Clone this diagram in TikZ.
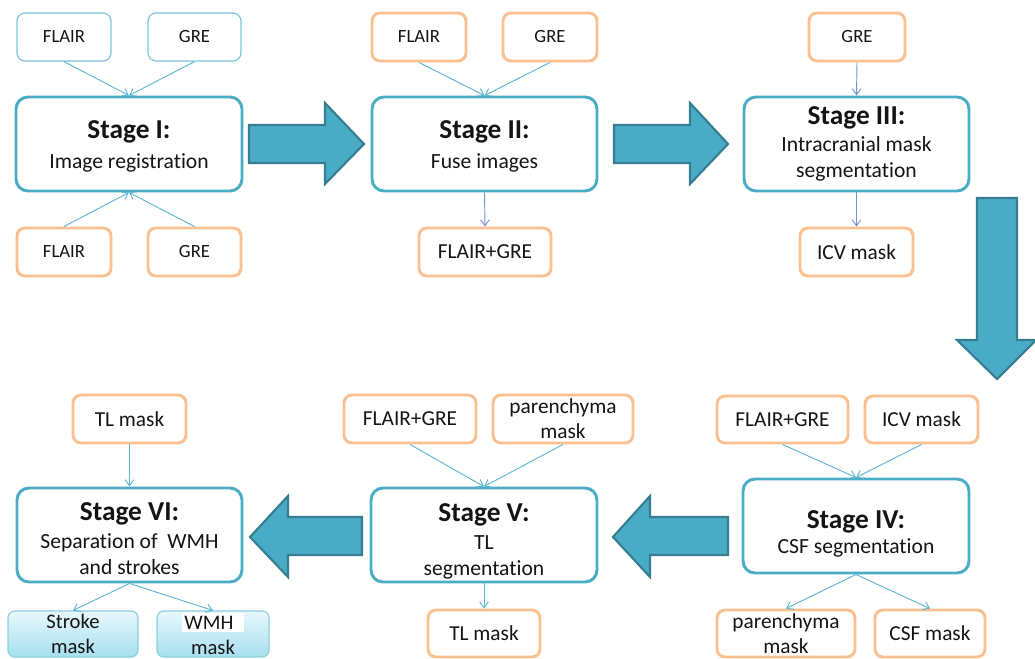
\documentclass[tikz,border=0pt]{standalone}
\usepackage{fontspec}
\setmainfont{Carlito}[Ligatures=NoCommon]
\usetikzlibrary{arrows.meta}

\definecolor{stageline}{HTML}{4BACC6}
\definecolor{inline}{HTML}{7CC5D8}
\definecolor{dataline}{HTML}{FAC08F}
\definecolor{connteal}{HTML}{5DB6CF}
\definecolor{connblue}{HTML}{6F93CF}
\definecolor{bigfill}{HTML}{4AABC6}
\definecolor{bigline}{HTML}{357D91}
\definecolor{outtop}{HTML}{E8F8FC}
\definecolor{outbot}{HTML}{A6DFF0}
\definecolor{outline}{HTML}{8ACFE0}
\definecolor{ink}{HTML}{141414}

% box placed by its corners (in pixel units): name, style, x1, y1, x2, y2, text
\newcommand\placebox[7]{%
  \node[#2, minimum width={(#5-#3)*0.75pt}, minimum height={(#6-#4)*0.75pt}]
    (#1) at ({(#3+#5)/2},{(#4+#6)/2}) {#7};}

% bold stage heading; optional argument is a strut height that lowers the text block
\newcommand\stagetitle[2][0pt]{{\fontsize{20.5}{23}\selectfont\bfseries\rule{0pt}{#1}#2}}

\tikzset{
  basebox/.style={rectangle, inner sep=0pt, align=center, text=ink},
  stagebox/.style={basebox, draw=stageline, line width=2.2pt, rounded corners=9pt,
    fill=white, font=\fontsize{16.2}{19.5}\selectfont},
  inbox/.style={basebox, draw=inline, line width=0.9pt, rounded corners=6pt,
    font=\fontsize{14}{18.5}\selectfont},
  databox/.style={basebox, draw=dataline, line width=2.2pt, rounded corners=6pt,
    font=\fontsize{16}{18.8}\selectfont},
  smalldata/.style={databox, font=\fontsize{14}{18.5}\selectfont},
  outbox/.style={basebox, draw=outline, line width=0.8pt, rounded corners=5pt,
    top color=outtop, bottom color=outbot, font=\fontsize{15.5}{19}\selectfont},
  conn/.style={draw=connteal, line width=0.7pt,
    -{Straight Barb[length=4.5pt,width=6.5pt,line width=0.7pt]}},
  connb/.style={conn, draw=connblue},
  bigarrow/.style={fill=bigfill, draw=bigline, line width=1.6pt, line join=miter},
}

\begin{document}
\begin{tikzpicture}[x=0.75pt,y=-0.75pt]
\useasboundingbox (0,0) rectangle (1035,659);

% ---------- Stage I ----------
\placebox{s1in1}{inbox}{17}{13}{111}{61}{FLAIR}
\placebox{s1in2}{inbox}{148}{13}{241}{61}{GRE}
\placebox{s1}{stagebox}{16}{97}{242}{191}{\stagetitle[17pt]{Stage I:}\\[3pt] Image registration}
\placebox{s1out1}{smalldata}{17}{228}{111}{276}{FLAIR}
\placebox{s1out2}{smalldata}{148}{228}{241}{276}{GRE}
\draw[conn] (s1in1.south) -- (s1.north);
\draw[conn] (s1in2.south) -- (s1.north);
\draw[conn] (s1out1.north) -- (s1.south);
\draw[conn] (s1out2.north) -- (s1.south);

% ---------- Stage II ----------
\placebox{s2in1}{smalldata}{372}{13}{466}{61}{FLAIR}
\placebox{s2in2}{smalldata}{503}{13}{597}{61}{GRE}
\placebox{s2}{stagebox}{372}{97}{597}{191}{\stagetitle[17pt]{Stage II:}\\[3pt] Fuse images}
\placebox{s2out}{databox}{419}{228}{551}{276}{FLAIR+GRE}
\draw[conn] (s2in1.south) -- (s2.north);
\draw[conn] (s2in2.south) -- (s2.north);
\draw[connb] (s2.south) -- (s2out.north);

% ---------- Stage III ----------
\placebox{s3in}{smalldata}{809}{13}{905}{61}{GRE}
\placebox{s3}{stagebox}{744}{97}{969}{191}{\stagetitle{Stage III:}\\[1pt] Intracranial mask\\ segmentation}
\placebox{s3out}{databox}{800}{228}{913}{276}{ICV mask}
\draw[connb] (s3in.south) -- (s3.north);
\draw[connb] (s3.south) -- (s3out.north);

% ---------- Stage IV ----------
\placebox{s4in1}{databox}{717}{396}{848}{443}{FLAIR+GRE}
\placebox{s4in2}{databox}{865}{396}{978}{443}{ICV mask}
\placebox{s4}{stagebox}{743}{479}{969}{573}{\stagetitle[25pt]{Stage IV:}\\[-1pt] CSF segmentation}
\placebox{s4out1}{databox}{717}{610}{855}{657}{parenchyma\\ mask}
\placebox{s4out2}{databox}{875}{610}{985}{657}{CSF mask}
\draw[conn] (s4in1.south) -- (s4.north);
\draw[conn] (s4in2.south) -- (s4.north);
\draw[conn] (s4.south) -- (s4out1.north);
\draw[conn] (s4.south) -- (s4out2.north);

% ---------- Stage V ----------
\placebox{s5in1}{databox}{344}{395}{476}{443}{FLAIR+GRE}
\placebox{s5in2}{databox}{493}{395}{633}{443}{parenchyma\\ mask}
\placebox{s5}{stagebox}{371}{488}{597}{582}{\stagetitle[23pt]{Stage V:}\\[1pt] TL\\ segmentation}
\placebox{s5out}{databox}{428}{610}{540}{657}{TL mask}
\draw[conn] (s5in1.south) -- (s5.north);
\draw[conn] (s5in2.south) -- (s5.north);
\draw[conn] (s5.south) -- (s5out.north);

% ---------- Stage VI ----------
\placebox{s6in}{databox}{73}{395}{186}{443}{TL mask}
\placebox{s6}{stagebox}{17}{488}{242}{582}{\stagetitle[19pt]{Stage VI:}\\[1pt] Separation of\ \ WMH\\ and strokes}
\placebox{s6out1}{outbox}{8}{611}{138}{657}{Stroke\\ mask}
\placebox{s6out2}{outbox}{157}{611}{269}{657}{{\setlength\fboxsep{2pt}\colorbox{white}{WMH\ \,}}\\ mask}
\draw[conn] (s6in.south) -- (s6.north);
\draw[conn] (s6.south) -- (s6out1.north);
\draw[conn] (s6.south) -- (s6out2.north);

% ---------- block arrows between stages ----------
\draw[bigarrow] (249,125) -- (325,125) -- (325,103) -- (364,144) -- (325,184)
  -- (325,163) -- (249,163) -- cycle;
\draw[bigarrow] (614,125) -- (690,125) -- (690,103) -- (728,144) -- (690,184)
  -- (690,163) -- (614,163) -- cycle;
\draw[bigarrow] (977,198) -- (1017,198) -- (1017,340) -- (1036,340) -- (997,379)
  -- (957,340) -- (977,340) -- cycle;
\draw[bigarrow] (728,517) -- (650,517) -- (650,496) -- (613,537) -- (650,577)
  -- (650,555) -- (728,555) -- cycle;
\draw[bigarrow] (362,517) -- (288,517) -- (288,496) -- (250,537) -- (288,577)
  -- (288,555) -- (362,555) -- cycle;
\end{tikzpicture}
\end{document}
